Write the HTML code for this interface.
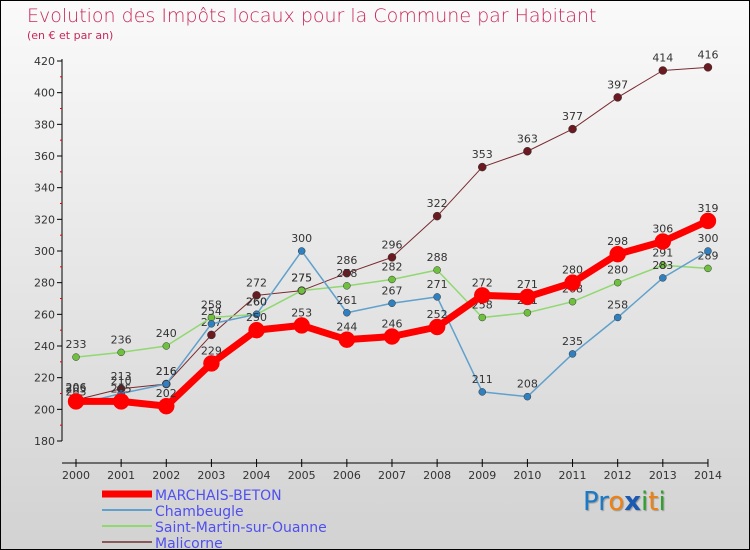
<!DOCTYPE html>
<html><head><meta charset="utf-8"><style>
body{margin:0}
#c{width:748px;height:548px;border:1px solid #000;background:linear-gradient(#fafafa,#d2d2d2);position:relative;font-family:"DejaVu Sans","Liberation Sans",sans-serif;overflow:hidden}
.t{position:absolute;color:#c8285a}
</style></head><body>
<div id="c">
<div class="t" style="left:26px;top:4px;font-size:19px;font-weight:200">Evolution des Impôts locaux pour la Commune par Habitant</div>
<div class="t" style="left:26px;top:28px;font-size:11px">(en € et par an)</div>
<svg id="s" width="748" height="548" style="position:absolute;left:0;top:0"></svg>
<div style="position:absolute;left:582px;top:486px;font-size:26px;font-family:'DejaVu Sans',sans-serif;text-shadow:1px 1px 1px #999"><span style="color:#1a7ac8">Pr</span><span style="color:#f08010">o</span><span style="color:#1a5ab0;font-weight:bold">x</span><span style="color:#30a030">i</span><span style="color:#f08010">t</span><span style="color:#30a030">i</span></div>
</div>
<script>
const years=[2000,2001,2002,2003,2004,2005,2006,2007,2008,2009,2010,2011,2012,2013,2014];
const yTicks=[180,200,220,240,260,280,300,320,340,360,380,400,420];
const marchais=[205,205,202,229,250,253,244,246,252,272,271,280,298,306,319];
const chambeugle=[203,210,216,254,260,300,261,267,271,211,208,235,258,283,300];
const saintMartin=[233,236,240,258,260,275,278,282,288,258,261,268,280,291,289];
const malicorne=[206,213,216,247,272,275,286,296,322,353,363,377,397,414,416];
const names=["MARCHAIS-BETON","Chambeugle","Saint-Martin-sur-Ouanne","Malicorne"];
const NS="http://www.w3.org/2000/svg",s=document.getElementById('s');
const X=i=>75+i*45.14, Y=v=>440-(v-180)*380/240;
function el(t,a,p){const e=document.createElementNS(NS,t);for(const k in a)e.setAttribute(k,a[k]);(p||s).appendChild(e);return e;}
let ax=el('g',{});


el('line',{x1:61,y1:Y(420)-2,x2:61,y2:Y(180),stroke:'#000'},ax);
el('line',{x1:61,y1:Y(180)+22,x2:X(14),y2:Y(180)+22,stroke:'#000'},ax);
yTicks.forEach((v,i)=>{el('line',{x1:56,x2:61,y1:Y(v),y2:Y(v),stroke:'#000'},ax);
 if(i<yTicks.length-1)el('line',{x1:59,x2:61,y1:Y(v+10),y2:Y(v+10),stroke:'#e00'},ax);
 let t=el('text',{x:54,y:Y(v)+4,'text-anchor':'end','font-size':11,fill:'#333'},ax);t.textContent=v;});
years.forEach((y,i)=>{el('line',{x1:X(i),x2:X(i),y1:Y(180)+18,y2:Y(180)+26,stroke:'#000'},ax);
 let t=el('text',{x:X(i),y:Y(180)+38,'text-anchor':'middle','font-size':11,fill:'#333'},ax);t.textContent=y;});
const series=[[malicorne,'#7a2a30','#6a1a20',1,4],[saintMartin,'#90d870','#70c040',1.5,3.5],[chambeugle,'#5fa0cc','#3080c0',1.5,3.5],[marchais,'#f00','#f00',7,8]];
const lnames=["Malicorne","Saint-Martin-sur-Ouanne","Chambeugle","MARCHAIS-BETON"];
series.forEach((sr,k)=>{const [d,c,pc,w,r]=sr;
 let g=el('g',{});
 
 
 el('polyline',{points:d.map((v,i)=>X(i)+','+Y(v)).join(' '),fill:'none',stroke:c,'stroke-width':w,'stroke-linejoin':'round'},g);
 d.forEach((v,i)=>{el('circle',{cx:X(i),cy:Y(v),r:r,fill:pc,stroke:k==3?'#f00':'#333','stroke-width':0.5},g);
  let t=el('text',{x:X(i),y:Y(v)-9,'text-anchor':'middle','font-size':11,fill:'#333'},g);t.textContent=v;});
});
const lc=['#f00','#5fa0cc','#90d870','#8a5a5a'],lw=[7,2,2,2];
names.forEach((n,i)=>{let g=el('g',{});
 
 
 const y=493+i*16;
 el('line',{x1:101,x2:151,y1:y,y2:y,stroke:lc[i],'stroke-width':lw[i]},g);
 let t=el('text',{x:154,y:y+6,'font-size':14,fill:'#5050f0'},g);t.textContent=n;});
</script>
</body></html>
